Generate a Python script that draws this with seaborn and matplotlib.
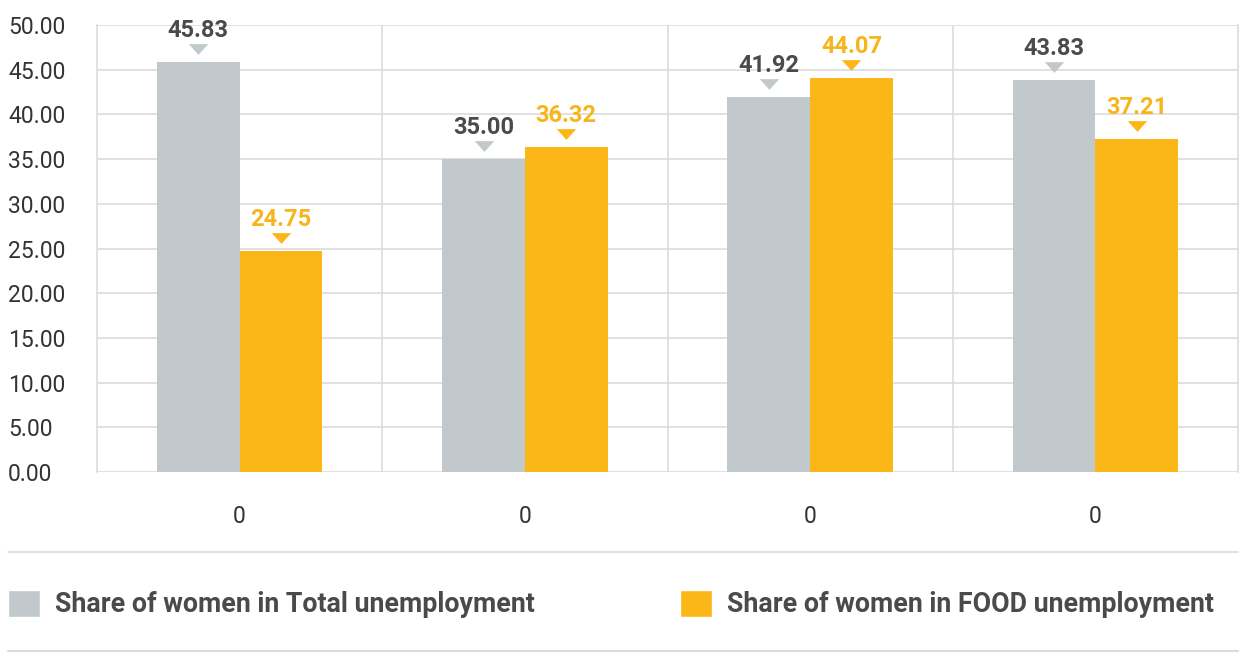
import pandas as pd
import seaborn as sns
import matplotlib.pyplot as plt
import matplotlib.transforms as mtransforms
from matplotlib.lines import Line2D
from matplotlib.patches import Patch

# data
groups = [0, 1, 2, 3]
tick_labels = ['0', '0', '0', '0']
series_names = ['Share of women in Total unemployment', 'Share of women in FOOD unemployment']
total_share = [45.83, 35.00, 41.92, 43.83]
food_share = [24.75, 36.32, 44.07, 37.21]
y_ticks = [0, 5, 10, 15, 20, 25, 30, 35, 40, 45, 50]

grey = '#c2c9cc'
orange = '#fbb717'
text_dark = '#4a4a4a'
label_orange = '#f7b51b'
grid_col = '#dcdcdc'

df = pd.DataFrame({
    'group': groups * 2,
    'value': total_share + food_share,
    'series': [series_names[0]] * 4 + [series_names[1]] * 4,
})

sns.set_theme(style='white')
plt.rcParams['font.family'] = ['Roboto', 'DejaVu Sans']

fig = plt.figure(figsize=(12.39, 6.53), dpi=100)
ax = fig.add_axes([97 / 1239, 1 - 472 / 653, (1238 - 97) / 1239, (472 - 25) / 653])

sns.barplot(data=df, x='group', y='value', hue='series', hue_order=series_names,
            palette=[grey, orange], width=0.58, saturation=1, linewidth=0,
            ax=ax, legend=False)

ax.set_xlim(-0.5, 3.5)
ax.set_ylim(0, 50)
ax.set_yticks(y_ticks)
ax.set_yticklabels([f'{v:.2f}' for v in y_ticks])
ax.set_xticks(groups)
ax.set_xticklabels(tick_labels)
ax.set_xlabel('')
ax.set_ylabel('')

# grid: horizontal lines + vertical separators between groups
for v in y_ticks:
    ax.axhline(v, color=grid_col, lw=1.2, zorder=0)
for xs in [0.5, 1.5, 2.5]:
    ax.axvline(xs, color=grid_col, lw=1.2, zorder=0)
for s in ['left', 'right']:
    ax.spines[s].set_color(grid_col)
    ax.spines[s].set_linewidth(1.2)
ax.spines['top'].set_visible(False)
ax.spines['bottom'].set_visible(False)

ax.tick_params(axis='y', length=0, pad=64, labelsize=16.5, labelcolor='#333333')
ax.tick_params(axis='x', length=0, pad=24, labelsize=16.5, labelcolor='#333333')
for lab in ax.get_yticklabels():
    lab.set_ha('left')

# value labels with small triangles
tri = [(-1, 0.55), (1, 0.55), (0, -0.55)]
tri_tf = mtransforms.offset_copy(ax.transData, fig=fig, y=9.5, units='points')
colors_txt = [text_dark, label_orange]
colors_tri = [grey, orange]
for i, cont in enumerate(ax.containers):
    for bar in cont:
        h = bar.get_height()
        xc = bar.get_x() + bar.get_width() / 2
        ax.plot([xc], [h], marker=tri, markersize=14, color=colors_tri[i],
                markeredgewidth=0, transform=tri_tf, clip_on=False, zorder=5)
        ax.annotate(f'{h:.2f}', (xc, h), xytext=(0, 18), textcoords='offset points',
                    ha='center', va='baseline', fontsize=17, fontweight='bold',
                    color=colors_txt[i], annotation_clip=False)

# legend between two rules
fig.add_artist(Line2D([8 / 1239, 1238 / 1239], [1 - 552 / 653] * 2, color=grid_col, lw=1.2))
fig.add_artist(Line2D([8 / 1239, 1238 / 1239], [1 - 651 / 653] * 2, color=grid_col, lw=1.5))
handles = [Patch(facecolor=grey), Patch(facecolor=orange)]
leg = fig.legend(handles, series_names, loc='center left', bbox_to_anchor=(8 / 1239, 1 - 604 / 653),
                 ncol=2, frameon=False, fontsize=19.3, handlelength=1.2, handleheight=1.2,
                 handletextpad=0.56, columnspacing=5.4, borderaxespad=0, borderpad=0)
for t in leg.get_texts():
    t.set_fontweight('bold')
    t.set_color(text_dark)

fig.savefig('out.png', dpi=100)
plt.close()
